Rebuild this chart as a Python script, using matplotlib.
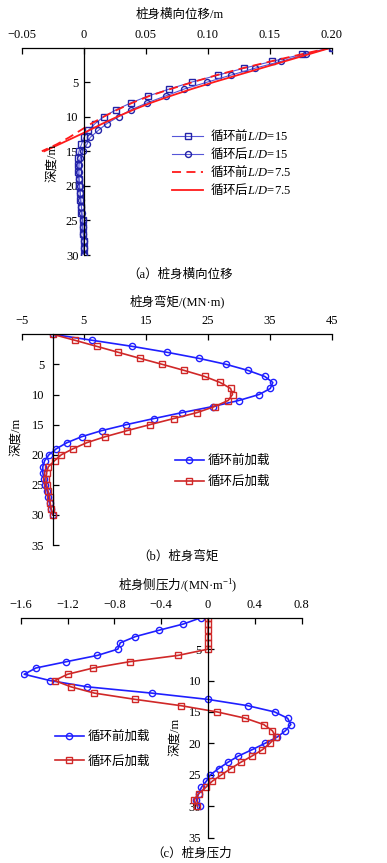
import numpy as np
import matplotlib
matplotlib.use('Agg')
import matplotlib.pyplot as plt

plt.rcParams['font.family'] = ['Liberation Serif', 'Noto Sans CJK SC']
plt.rcParams['mathtext.fontset'] = 'custom'
plt.rcParams['mathtext.it'] = 'Liberation Serif:italic'
plt.rcParams['mathtext.rm'] = 'Liberation Serif'
plt.rcParams['mathtext.sf'] = 'Noto Sans CJK SC'
plt.rcParams['axes.unicode_minus'] = True

# ---- (a) lateral displacement ----
depth_a = list(range(31))
before_15 = [0.200, 0.176, 0.152, 0.129, 0.108, 0.087, 0.069, 0.052, 0.038, 0.026,
             0.016, 0.009, 0.0035, 0.000, -0.002, -0.004, -0.005, -0.005, -0.005, -0.004,
             -0.004, -0.003, -0.003, -0.002, -0.002, -0.001, -0.001, -0.0005, 0.0, 0.0, 0.0]
after_15 = [0.200, 0.179, 0.159, 0.138, 0.1185, 0.0997, 0.081, 0.066, 0.051, 0.038,
            0.028, 0.0185, 0.0115, 0.005, 0.0024, -0.001, -0.003, -0.004, -0.004, -0.004,
            -0.0035, -0.003, -0.0025, -0.002, -0.0015, -0.001, -0.001, -0.0005, 0.0, 0.0, 0.0]
depth_short = list(range(16))
before_75 = [0.200, 0.175, 0.151, 0.128, 0.107, 0.088, 0.070, 0.053, 0.039, 0.027,
             0.016, 0.006, -0.003, -0.012, -0.022, -0.034]
after_75 = [0.200, 0.181, 0.162, 0.143, 0.124, 0.105, 0.087, 0.070, 0.054, 0.040,
            0.027, 0.015, 0.004, -0.008, -0.020, -0.032]
xt_a = [-0.05, 0, 0.05, 0.10, 0.15, 0.20]
xl_a = ['\u22120.05', '0', '0.05', '0.10', '0.15', '0.20']
yt_a = [5, 10, 15, 20, 25, 30]

# ---- (b) bending moment ----
depth_b = list(range(31))
moment_before = [0, 6.4, 12.8, 18.5, 23.6, 28.0, 31.5, 34.2, 35.5, 35.1,
                 33.3, 30.0, 25.8, 20.9, 16.3, 11.9, 7.9, 4.7, 2.3, 0.6,
                 -0.6, -1.3, -1.6, -1.6, -1.4, -1.2, -0.9, -0.7, -0.5, -0.3, 0.0]
moment_after = [0, 3.6, 7.1, 10.6, 14.1, 17.7, 21.2, 24.5, 27.0, 28.7,
                29.0, 28.3, 26.1, 23.3, 19.5, 15.7, 12.0, 8.5, 5.5, 3.3,
                1.4, 0.3, -0.7, -1.0, -1.1, -1.0, -0.75, -0.5, -0.4, -0.25, 0.05]
xt_b = [-5, 5, 15, 25, 35, 45]
xl_b = ['\u22125', '5', '15', '25', '35', '45']
yt_b = [5, 10, 15, 20, 25, 30, 35]

# ---- (c) lateral pressure ----
depth_c = list(range(31))
press_before = [-0.06, -0.21, -0.42, -0.62, -0.75, -0.77, -0.945, -1.21, -1.47, -1.57,
                -1.35, -1.03, -0.48, 0.0, 0.34, 0.57, 0.68, 0.707, 0.66, 0.59,
                0.485, 0.376, 0.26, 0.17, 0.09, 0.02, -0.014, -0.057, -0.08, -0.10, -0.07]
press_after = [0, 0, 0, 0, 0, 0, -0.256, -0.67, -0.98, -1.20,
               -1.31, -1.17, -0.97, -0.62, -0.23, 0.08, 0.32, 0.476, 0.55, 0.58,
               0.527, 0.465, 0.376, 0.28, 0.194, 0.115, 0.037, -0.02, -0.08, -0.12, -0.09]
xt_c = [-1.6, -1.2, -0.8, -0.4, 0, 0.4, 0.8]
xl_c = ['\u22121.6', '\u22121.2', '\u22120.8', '\u22120.4', '0', '0.4', '0.8']
yt_c = [5, 10, 15, 20, 25, 30, 35]

W, H = 387, 863
fig = plt.figure(figsize=(W / 100, H / 100), dpi=100)


def rect(x0, y0, x1, y1):
    return [x0 / W, 1 - y1 / H, (x1 - x0) / W, (y1 - y0) / H]


def ftext(x, y, s, **kw):
    fig.text(x / W, 1 - y / H, s, ha='center', va='center', fontsize=9, **kw)


def style(ax, xlim, ylim, xt, xl, yt, ypad):
    ax.set_xlim(*xlim)
    ax.set_ylim(*ylim)
    ax.xaxis.tick_top()
    ax.spines['bottom'].set_visible(False)
    ax.spines['right'].set_visible(False)
    ax.spines['left'].set_position(('data', 0))
    for s in ('top', 'left'):
        ax.spines[s].set_linewidth(0.9)
    ax.set_xticks(xt)
    ax.set_xticklabels(xl)
    ax.set_yticks(yt)
    ax.tick_params(axis='x', direction='in', length=4, width=0.9, pad=5, labelsize=9)
    ax.tick_params(axis='y', direction='in', length=4, width=0.9, pad=ypad, labelsize=9)
    ax.patch.set_alpha(0)


# (a)
ax1 = fig.add_axes(rect(22, 47.5, 331.7, 255))
ax1.plot(before_15, depth_a, color='#5555d8', lw=0.8, marker='s', ms=4.3, mfc='none',
         mec='#2323a8', mew=1, label='$\\mathsf{循环前}\\mathit{L/D}$=15')
ax1.plot(after_15, depth_a, color='#5555d8', lw=0.8, marker='o', ms=4.3, mfc='none',
         mec='#2323a8', mew=1, label='$\\mathsf{循环后}\\mathit{L/D}$=15')
ax1.plot(before_75, depth_short, color='#ff1a1a', lw=1.3, ls=(0, (5, 3)),
         label='$\\mathsf{循环前}\\mathit{L/D}$=7.5')
ax1.plot(after_75, depth_short, color='#ff1a1a', lw=1.3,
         label='$\\mathsf{循环后}\\mathit{L/D}$=7.5')
style(ax1, (-0.05, 0.20), (30, 0), xt_a, xl_a, yt_a, 4)
ax1.legend(loc='upper left', bbox_to_anchor=(172 / W, 1 - 128 / H),
           bbox_transform=fig.transFigure, frameon=False, fontsize=9,
           handlelength=2.5, handletextpad=0.5, labelspacing=0.22, borderpad=0,
           borderaxespad=0)
ftext(180, 15, '桩身横向位移/m')
ftext(180, 275, '（a）桩身横向位移')
ftext(52, 163, '深度/m', rotation=90)

# (b)
ax2 = fig.add_axes(rect(21.7, 334.3, 331.7, 545))
ax2.plot(moment_before, depth_b, color='#1f1fff', lw=1.2, marker='o', ms=4.5,
         mfc='none', mew=1, label='循环前加载')
ax2.plot(moment_after, depth_b, color='#d02828', lw=1.2, marker='s', ms=4.5,
         mfc='none', mew=1, label='循环后加载')
style(ax2, (-5, 45), (35, 0), xt_b, xl_b, yt_b, 6)
ax2.legend(loc='upper left', bbox_to_anchor=(175 / W, 1 - 455 / H),
           bbox_transform=fig.transFigure, frameon=False, fontsize=9,
           handlelength=2.3, handletextpad=0.3, labelspacing=0.7, borderpad=0,
           borderaxespad=0)
ftext(177, 301, '桩身弯矩/(MN·m)')
ftext(178, 556, '（b）桩身弯矩')
ftext(16, 437, '深度/m', rotation=90)

# (c)
ax3 = fig.add_axes(rect(20.7, 617.7, 301.7, 837.7))
ax3.plot(press_before, depth_c, color='#1f1fff', lw=1.2, marker='o', ms=4.5,
         mfc='none', mew=1, label='循环前加载')
ax3.plot(press_after, depth_c, color='#d02828', lw=1.2, marker='s', ms=4.5,
         mfc='none', mew=1, label='循环后加载')
style(ax3, (-1.6, 0.8), (35, 0), xt_c, xl_c, yt_c, 5)
ax3.legend(loc='upper left', bbox_to_anchor=(55 / W, 1 - 731 / H),
           bbox_transform=fig.transFigure, frameon=False, fontsize=9,
           handlelength=2.3, handletextpad=0.3, labelspacing=0.95, borderpad=0,
           borderaxespad=0)
ftext(178, 585, '$\\mathsf{桩身侧压力}$/(MN·m$^{\\mathregular{-1}}$)')
ftext(192, 853, '（c）桩身压力')
ftext(175, 737, '深度/m', rotation=90)

fig.savefig('out.png', dpi=100)
